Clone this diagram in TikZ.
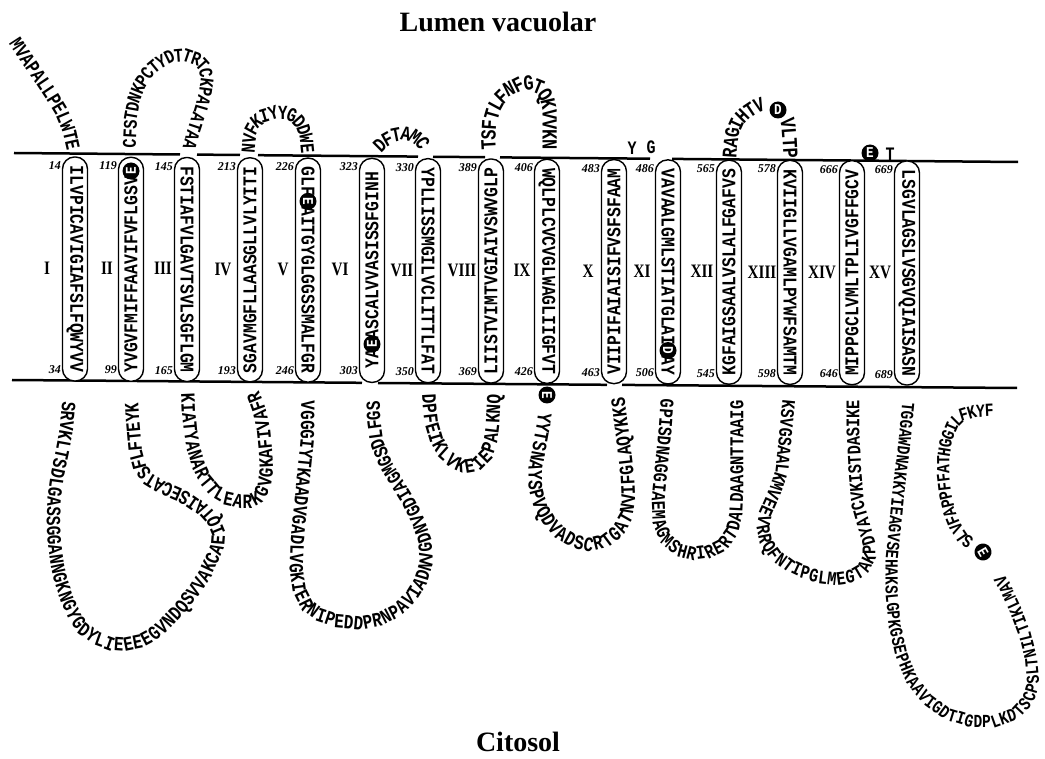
\documentclass[tikz,border=0pt]{standalone}
\usepackage{fontspec}
\setmainfont{Liberation Serif}
\newfontfamily\seqfont[FakeStretch=0.84]{Liberation Mono}
\newfontfamily\loopfont[FakeStretch=0.79]{Liberation Mono}
\newfontfamily\romfont[FakeStretch=0.8]{Liberation Serif}
\newcommand\helixfont{\seqfont\bfseries\fontsize{19.5}{20}\selectfont}
\newcommand\loopsty{\loopfont\bfseries\fontsize{19}{20}\selectfont}
\newcommand\residfont{\seqfont\bfseries\fontsize{15}{15}\selectfont}
\usetikzlibrary{decorations.text}
\begin{document}
\begin{tikzpicture}[x=1pt,y=-1pt,
  membrane/.style={line width=2.5pt},
  helix/.style={draw,line width=1.4pt,fill=white,rounded corners=12pt,minimum width=224pt,minimum height=25pt,inner sep=0pt,font=\helixfont},
  resid/.style={circle,fill=black,text=white,inner sep=0pt,minimum size=17pt,font=\residfont},
  num/.style={anchor=east,inner sep=0pt,font=\bfseries\itshape\fontsize{12}{12}\selectfont},
  tmlabel/.style={font=\romfont\bfseries\fontsize{19}{19}\selectfont},
  side/.style={font=\bfseries\fontsize{28}{28}\selectfont},
  loopres/.style={inner sep=0pt,font=\loopsty},
  seqloop/.style 2 args={decorate,decoration={text along path,text align=center,raise=-6.3pt,text={|\loopfont\bfseries\fontsize{#1}{#1}\selectfont|#2}}}]
        \useasboundingbox (0,0) rectangle (1045,759);
        \node[side] (lumen) at (498,22) {Lumen vacuolar};
        \node[side] (cito) at (518,742) {Citosol};
        % membrana
        \draw[membrane] (14,153) -- (180,154.5);
        \draw[membrane] (197,154.6) -- (240,155);
        \draw[membrane] (258,155.2) -- (418,156.6);
        \draw[membrane] (433,156.8) -- (485,157.2);
        \draw[membrane] (500,157.4) -- (650,158.7);
        \draw[membrane] (672,158.9) -- (1018,162);
        \draw[membrane] (12,380) -- (362,382.8);
        \draw[membrane] (378,383) -- (607,384.8);
        \draw[membrane] (622,384.9) -- (1017,388);
        % helices
        \node[helix,rotate=-90] (h1) at (75,269) {ILVPICAVIGIAFSLFQWYVV};
        \node[helix,rotate=90] (h2) at (131,269.3) {YVGVFMIFFAAVIFVFLGSV\phantom{E}};
        \node[helix,rotate=-90] (h3) at (187,269.5) {FSTIAFVLGAVTSVLSGFLGM};
        \node[helix,rotate=90] (h4) at (250,269.8) {SGAVMGFLLAASGLLVLYITI};
        \node[helix,rotate=-90] (h5) at (308,270.1) {GLF\phantom{E}AITGYGLGGSSMALFGR};
        \node[helix,rotate=90] (h6) at (372,270.4) {YA\phantom{E}ASCALVVASISSFGINH};
        \node[helix,rotate=-90] (h7) at (428,270.7) {YPLLISSMGILVCLITTLFAT};
        \node[helix,rotate=90] (h8) at (491,271) {LIISTVIMTVGIAIVSWVGLP};
        \node[helix,rotate=-90] (h9) at (547,271.3) {WQLPLCVCVGLWAGLIIGFVT};
        \node[helix,rotate=90] (h10) at (614,271.6) {VIIPIFAIAISIFVSFSFAAM};
        \node[helix,rotate=-90] (h11) at (668,271.9) {VAVAALGMLSTIATGLAI\phantom{D}AY};
        \node[helix,rotate=90] (h12) at (729,272.2) {KGFAIGSAALVSLALFGAFVS};
        \node[helix,rotate=-90] (h13) at (790,272.4) {KVIIGLLVGAMLPYWFSAMTM};
        \node[helix,rotate=90] (h14) at (852,272.7) {MIPPGCLVMLTPLIVGFFGCV};
        \node[helix,rotate=-90] (h15) at (907,273) {LSGVLAGSLVSGVQIAISASN};
        \node[resid,rotate=90] (e119) at (131,171) {E};
        \node[resid,rotate=-90] (e229) at (308,201.3) {E};
        \node[resid,rotate=90] (e305) at (372,344.1) {E};
        \node[resid,rotate=-90] (d504) at (668,350.5) {D};
        % numeros romanos
        \node[tmlabel] (r1) at (47,268) {I};
        \node[tmlabel] (r2) at (107,268) {II};
        \node[tmlabel] (r3) at (163,268) {III};
        \node[tmlabel] (r4) at (223,269) {IV};
        \node[tmlabel] (r5) at (283,269) {V};
        \node[tmlabel] (r6) at (340,269) {VI};
        \node[tmlabel] (r7) at (402,270) {VII};
        \node[tmlabel] (r8) at (462,270) {VIII};
        \node[tmlabel] (r9) at (522,270) {IX};
        \node[tmlabel] (r10) at (588,271) {X};
        \node[tmlabel] (r11) at (642,271) {XI};
        \node[tmlabel] (r12) at (702,271) {XII};
        \node[tmlabel] (r13) at (762,272) {XIII};
        \node[tmlabel] (r14) at (822,272) {XIV};
        \node[tmlabel] (r15) at (880,272) {XV};
        % posiciones
        \node[num] (n14) at (61,166) {14};
        \node[num] (n34) at (61,370) {34};
        \node[num] (n119) at (117,166) {119};
        \node[num] (n99) at (117,370) {99};
        \node[num] (n145) at (173,167) {145};
        \node[num] (n165) at (173,371) {165};
        \node[num] (n213) at (236,167) {213};
        \node[num] (n193) at (236,371) {193};
        \node[num] (n226) at (294,167) {226};
        \node[num] (n246) at (294,371) {246};
        \node[num] (n323) at (358,167) {323};
        \node[num] (n303) at (358,371) {303};
        \node[num] (n330) at (414,168) {330};
        \node[num] (n350) at (414,372) {350};
        \node[num] (n389) at (477,168) {389};
        \node[num] (n369) at (477,372) {369};
        \node[num] (n406) at (533,168) {406};
        \node[num] (n426) at (533,372) {426};
        \node[num] (n483) at (600,169) {483};
        \node[num] (n463) at (600,373) {463};
        \node[num] (n486) at (654,169) {486};
        \node[num] (n506) at (654,373) {506};
        \node[num] (n565) at (715,169) {565};
        \node[num] (n545) at (715,374) {545};
        \node[num] (n578) at (776,169) {578};
        \node[num] (n598) at (776,374) {598};
        \node[num] (n666) at (838,170) {666};
        \node[num] (n646) at (838,374) {646};
        \node[num] (n669) at (893,170) {669};
        \node[num] (n689) at (893,375) {689};
        % lazos
        \path[seqloop={20.4}{MVAPALLPELWTE}] (12,37) -- (25,57) -- (38,76) -- (50,94) -- (61,112) -- (69,131) -- (74,153);
        \path[seqloop={20.3}{SRVKLTSDLGASSGGANNGKNGYGDYLIEEEEGVNDQSVVAKCAEIQTAISECATSFLFTEYK}] (70,386) -- (68,408) -- (66,430) -- (62,452) -- (57,475) -- (54,497) -- (53,520) -- (54,543) -- (57,565) -- (61,583) -- (67,600) -- (74,616) -- (84,630) -- (96,639) -- (110,644) -- (125,645) -- (140,642) -- (153,635) -- (165,625) -- (181,608) -- (195,590) -- (205,575) -- (212,560) -- (218,546) -- (219,533) -- (214,521) -- (205,511) -- (192,502) -- (178,494) -- (162,487) -- (149,479) -- (140,468) -- (136,453) -- (133,420) -- (131,387);
        \path[seqloop={19.4}{CFSTDNKPCTYDTTRTCKPALATAA}] (129,154) -- (130,135) -- (131,116) -- (134,99) -- (140,84) -- (149,71) -- (160,62) -- (172,56) -- (185,55) -- (197,59) -- (205,68) -- (207,80) -- (205,95) -- (200,112) -- (194,130) -- (187,155);
        \path[seqloop={20.3}{KIATYANARTTLEARKGVGKAFIVAFR}] (187,386) -- (188,408) -- (190,430) -- (193,448) -- (198,465) -- (205,480) -- (215,492) -- (227,499) -- (240,502) -- (250,502) -- (259,497) -- (265,485) -- (267,470) -- (266,450) -- (264,430) -- (260,412) -- (255,398) -- (250,386);
        \path[seqloop={20}{NVFKIYYGDDWE}] (248,156) -- (249,143) -- (251,131) -- (256,122) -- (264,116) -- (274,113) -- (285,113) -- (295,117) -- (302,125) -- (306,137) -- (308,156);
        \path[seqloop={20.2}{VGGGIYTKAADVGADLVGKIERNIPEDDPRNPAVIADNVGDNVGDIAGMGSDLFGS}] (308,386) -- (307,440) -- (302,490) -- (297,540) -- (296,570) -- (299,590) -- (307,606) -- (320,616) -- (338,622) -- (360,624) -- (380,620) -- (397,611) -- (411,598) -- (421,582) -- (427,562) -- (425,540) -- (418,520) -- (409,502) -- (398,484) -- (386,465) -- (377,442) -- (374,420) -- (373,386);
        \path[seqloop={20.5}{DFTAMC}] (373,157) -- (378,148) -- (385,141) -- (394,136) -- (404,134) -- (414,136) -- (421,141) -- (426,149) -- (428,155);
        \path[seqloop={20.5}{DPFEIKLVKEIEPALKNQ}] (428,387) -- (429,405) -- (431,423) -- (436,440) -- (443,453) -- (453,462) -- (465,467) -- (477,465) -- (486,456) -- (491,442) -- (493,425) -- (494,405) -- (495,387);
        \path[seqloop={21.5}{TSFTLFNFGTQKVVKN}] (490,158) -- (489,140) -- (490,124) -- (494,110) -- (500,99) -- (509,90) -- (519,85) -- (530,84) -- (540,88) -- (546,97) -- (549,110) -- (549,130) -- (549,158);
        \node[resid,rotate=-90] (e427) at (547,395) {E};
        \path[seqloop={20.5}{YYTSNAYSPVQDVADSCRTGATNVIFGLAQYKKS}] (546,403) -- (543,425) -- (539,447) -- (535,468) -- (535,488) -- (540,507) -- (549,522) -- (560,534) -- (574,542) -- (590,545) -- (606,541) -- (618,532) -- (626,518) -- (629,500) -- (628,478) -- (625,452) -- (621,420) -- (617,388);
        \node[loopres] (y484) at (632,148) {Y};
        \node[loopres] (g485) at (651,147) {G};
        \path[seqloop={19.6}{GPISDNAGGIAEMAGMSHRIRERTDALDAAGNTTAAIG}] (668,388) -- (665,430) -- (661,470) -- (658,500) -- (659,522) -- (666,540) -- (678,550) -- (693,554) -- (709,552) -- (723,545) -- (732,532) -- (736,515) -- (737,495) -- (737,450) -- (737,389);
        \path[seqloop={21}{RAGIHTV}] (730,160) -- (731,145) -- (733,132) -- (738,121) -- (746,113) -- (755,107) -- (766,103);
        \node[resid] (d573) at (778,110) {D};
        \path[seqloop={21.5}{VLTP}] (786,117) -- (788,128) -- (789,142) -- (790,160);
        \path[seqloop={19.3}{KSVGSAALKMVEEVRRQFNTIPGLMEGTAKPDYATCVKISTDASIKE}] (790,389) -- (786,430) -- (782,470) -- (775,492) -- (766,512) -- (763,527) -- (766,542) -- (775,555) -- (790,566) -- (805,573) -- (820,577) -- (836,579) -- (851,577) -- (863,570) -- (869,558) -- (869,543) -- (864,526) -- (858,505) -- (855,470) -- (853,430) -- (853,389);
        \node[resid] (e667) at (870,153) {E};
        \node[loopres] (t668) at (890,154) {T};
        \path[seqloop={18.4}{TGGAWDNAKKYIEAGVSEHAKSLGPKGSEPHKAAVIGDTIGDPLKDTSCPSLTNILTIKLMAV}] (910,390) -- (905,440) -- (898,500) -- (892,560) -- (892,595) -- (895,625) -- (901,653) -- (912,680) -- (928,700) -- (947,714) -- (970,721) -- (995,721) -- (1015,714) -- (1028,700) -- (1033,683) -- (1031,660) -- (1025,636) -- (1016,612) -- (1005,588) -- (992,566);
        \node[resid,rotate=-60] (e753) at (983,552) {E};
        \path[seqloop={18.5}{SLVFAPPFFATHGGILFKYF}] (975,546) -- (963,539) -- (955,527) -- (949,512) -- (945,495) -- (943,478) -- (943,458) -- (946,439) -- (952,425) -- (962,415) -- (975,411) -- (998,410);
    \end{tikzpicture}
\end{document}
